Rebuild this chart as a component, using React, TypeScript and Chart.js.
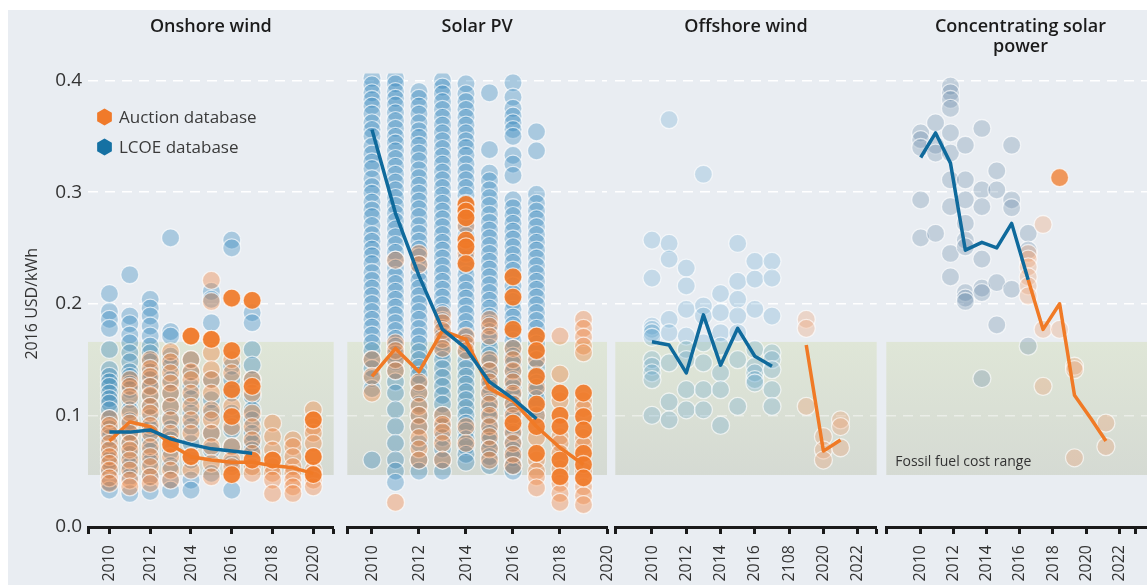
import React, { useEffect, useRef } from 'react';
import { Chart, registerables } from 'chart.js';

Chart.register(...registerables);

const FONT = "'Open Sans', 'DejaVu Sans', sans-serif";
Chart.defaults.font.family = FONT;

// ---------------- shared ----------------
const fossilRange = [0.0466, 0.1658];
const legendLabels = ['Auction database', 'LCOE database'];
const yAxisTitle = '2016 USD/kWh';
const fossilLabel = 'Fossil fuel cost range';

// ---------------- Onshore wind ----------------
const onshoreTitle = 'Onshore wind';
const onshoreYears = [2010, 2011, 2012, 2013, 2014, 2015, 2016, 2017, 2018, 2019, 2020];
const onshoreLcoe = [
  [0.209, 0.193, 0.186, 0.178, 0.159, 0.141, 0.135, 0.13, 0.126, 0.12, 0.115, 0.111, 0.105, 0.097, 0.088, 0.08, 0.07, 0.06, 0.05, 0.04, 0.033],
  [0.226, 0.189, 0.182, 0.172, 0.165, 0.156, 0.148, 0.139, 0.135, 0.128, 0.123, 0.114, 0.105, 0.095, 0.085, 0.075, 0.065, 0.055, 0.045, 0.03],
  [0.204, 0.196, 0.189, 0.18, 0.171, 0.162, 0.156, 0.148, 0.139, 0.132, 0.126, 0.117, 0.108, 0.098, 0.088, 0.078, 0.068, 0.058, 0.045, 0.032],
  [0.259, 0.175, 0.171, 0.153, 0.144, 0.132, 0.12, 0.108, 0.098, 0.088, 0.078, 0.068, 0.055, 0.042, 0.033],
  [0.15, 0.138, 0.126, 0.115, 0.102, 0.09, 0.075, 0.06, 0.042, 0.033],
  [0.211, 0.204, 0.183, 0.132, 0.114, 0.102, 0.084, 0.069, 0.048],
  [0.257, 0.25, 0.144, 0.132, 0.12, 0.102, 0.087, 0.072, 0.057, 0.033],
  [0.192, 0.183, 0.159, 0.145, 0.132, 0.117, 0.105, 0.096, 0.084, 0.075, 0.069],
  [],
  [],
  [],
];
const onshoreAuction = [
  [0.097, 0.091, 0.084, 0.075, 0.069, 0.063, 0.057, 0.051, 0.044, 0.039],
  [0.132, 0.126, 0.117, 0.102, 0.093, 0.084, 0.075, 0.069, 0.06, 0.051, 0.042, 0.036],
  [0.15, 0.142, 0.135, 0.126, 0.118, 0.108, 0.102, 0.091, 0.084, 0.072, 0.063, 0.054, 0.045, 0.039],
  [0.157, 0.148, 0.138, 0.129, 0.12, 0.108, 0.096, 0.084, 0.074, 0.063, 0.051, 0.042],
  [0.171, 0.15, 0.139, 0.132, 0.12, 0.108, 0.096, 0.084, 0.063, 0.051],
  [0.221, 0.202, 0.168, 0.156, 0.141, 0.132, 0.12, 0.105, 0.096, 0.084, 0.072, 0.057, 0.045],
  [0.15, 0.138, 0.108, 0.09, 0.072, 0.06, 0.054],
  [0.132, 0.12, 0.102, 0.09, 0.078, 0.066, 0.054, 0.048],
  [0.093, 0.081, 0.069, 0.06, 0.054, 0.048, 0.042, 0.03],
  [0.078, 0.072, 0.063, 0.054, 0.048, 0.042, 0.036, 0.03],
  [0.105, 0.096, 0.09, 0.084, 0.075, 0.063, 0.051, 0.047, 0.042, 0.036],
];
const onshoreAuctionLarge = [
  [], [], [], [0.074], [0.063, 0.171], [0.168],
  [0.205, 0.158, 0.123, 0.099, 0.047],
  [0.203, 0.126, 0.06],
  [0.06], [], [0.096, 0.063, 0.047],
];
const onshoreLcoeAvgYears = [2010, 2011, 2012, 2013, 2014, 2015, 2016, 2017];
const onshoreLcoeAvg = [0.085, 0.085, 0.087, 0.079, 0.074, 0.07, 0.068, 0.066];
const onshoreAuctionAvg = [0.077, 0.094, 0.09, 0.074, 0.063, 0.06, 0.058, 0.058, 0.055, 0.053, 0.048];
const onshoreTicks = [2008.95, 2010, 2012, 2014, 2016, 2018, 2020, 2021];
const onshoreTickLabels = ['', '2010', '2012', '2014', '2016', '2018', '2020', ''];

// ---------------- Solar PV ----------------
const solarTitle = 'Solar PV';
const solarYears = [2010, 2011, 2012, 2013, 2014, 2015, 2016, 2017, 2018, 2019];
const solarLcoe = [
  [0.402, 0.396, 0.389, 0.383, 0.377, 0.37, 0.362, 0.356, 0.35, 0.341, 0.334, 0.327, 0.321, 0.312, 0.305, 0.299, 0.291, 0.284, 0.278, 0.27, 0.262, 0.256, 0.249, 0.243, 0.236, 0.228, 0.221, 0.214, 0.207, 0.2, 0.193, 0.186, 0.179, 0.172, 0.165, 0.158, 0.15, 0.142, 0.133, 0.124, 0.06],
  [0.402, 0.397, 0.39, 0.384, 0.378, 0.371, 0.364, 0.357, 0.35, 0.344, 0.337, 0.33, 0.323, 0.316, 0.309, 0.302, 0.295, 0.288, 0.281, 0.274, 0.267, 0.26, 0.253, 0.246, 0.239, 0.232, 0.225, 0.218, 0.211, 0.204, 0.197, 0.19, 0.183, 0.176, 0.169, 0.162, 0.155, 0.148, 0.14, 0.13, 0.12, 0.105, 0.09, 0.075, 0.06, 0.05, 0.04],
  [0.39, 0.384, 0.377, 0.37, 0.362, 0.355, 0.349, 0.342, 0.335, 0.328, 0.32, 0.313, 0.306, 0.299, 0.292, 0.285, 0.278, 0.27, 0.263, 0.256, 0.249, 0.242, 0.235, 0.228, 0.221, 0.214, 0.207, 0.2, 0.193, 0.186, 0.178, 0.171, 0.164, 0.157, 0.15, 0.143, 0.136, 0.128, 0.12, 0.11, 0.1, 0.09, 0.075, 0.06, 0.05],
  [0.4, 0.394, 0.388, 0.381, 0.374, 0.367, 0.36, 0.353, 0.346, 0.339, 0.332, 0.325, 0.318, 0.311, 0.304, 0.297, 0.29, 0.283, 0.276, 0.269, 0.262, 0.255, 0.248, 0.241, 0.234, 0.227, 0.22, 0.213, 0.206, 0.199, 0.192, 0.185, 0.178, 0.171, 0.164, 0.157, 0.15, 0.142, 0.134, 0.126, 0.118, 0.11, 0.1, 0.09, 0.08, 0.07, 0.06, 0.05],
  [0.397, 0.388, 0.381, 0.374, 0.367, 0.36, 0.353, 0.346, 0.34, 0.333, 0.325, 0.318, 0.311, 0.304, 0.297, 0.29, 0.282, 0.275, 0.268, 0.261, 0.254, 0.247, 0.24, 0.233, 0.226, 0.219, 0.212, 0.205, 0.198, 0.191, 0.184, 0.177, 0.17, 0.163, 0.156, 0.149, 0.142, 0.135, 0.128, 0.121, 0.114, 0.107, 0.1, 0.093, 0.086, 0.079, 0.072, 0.065, 0.058],
  [0.389, 0.338, 0.317, 0.31, 0.302, 0.295, 0.288, 0.28, 0.273, 0.266, 0.259, 0.252, 0.245, 0.238, 0.231, 0.224, 0.217, 0.21, 0.203, 0.196, 0.189, 0.182, 0.175, 0.168, 0.161, 0.154, 0.147, 0.14, 0.133, 0.126, 0.119, 0.112, 0.105, 0.098, 0.091, 0.084, 0.077, 0.07, 0.063, 0.055],
  [0.398, 0.385, 0.375, 0.368, 0.362, 0.356, 0.35, 0.333, 0.325, 0.315, 0.293, 0.286, 0.279, 0.272, 0.265, 0.258, 0.251, 0.244, 0.237, 0.23, 0.223, 0.216, 0.209, 0.202, 0.195, 0.188, 0.181, 0.174, 0.167, 0.16, 0.153, 0.146, 0.139, 0.132, 0.125, 0.118, 0.111, 0.104, 0.097, 0.09, 0.083, 0.076, 0.069, 0.062, 0.055, 0.05],
  [0.354, 0.337, 0.298, 0.29, 0.283, 0.276, 0.269, 0.262, 0.255, 0.248, 0.241, 0.234, 0.227, 0.22, 0.213, 0.206, 0.199, 0.192, 0.185, 0.178, 0.171, 0.164, 0.157, 0.15, 0.143, 0.136, 0.129, 0.122, 0.115, 0.108, 0.1],
  [],
  [],
];
const solarAuction = [
  [0.15, 0.135, 0.12],
  [0.239, 0.165, 0.158, 0.15, 0.14, 0.022],
  [0.245, 0.235, 0.13, 0.12, 0.108, 0.1, 0.09, 0.08, 0.07, 0.06],
  [0.19, 0.183, 0.176, 0.168, 0.16, 0.1, 0.092, 0.085, 0.075, 0.06],
  [0.27, 0.245, 0.171, 0.165, 0.158, 0.09, 0.075],
  [0.186, 0.18, 0.171, 0.15, 0.14, 0.13, 0.12, 0.11, 0.1, 0.09, 0.081, 0.07, 0.06],
  [0.16, 0.15, 0.14, 0.13, 0.12, 0.11, 0.1, 0.085, 0.075, 0.065, 0.055],
  [0.15, 0.125, 0.1, 0.08, 0.06, 0.05, 0.045, 0.035],
  [0.171, 0.137, 0.113, 0.081, 0.075, 0.066, 0.052, 0.039, 0.03, 0.022],
  [0.186, 0.178, 0.17, 0.162, 0.156, 0.113, 0.106, 0.08, 0.073, 0.05, 0.036, 0.028, 0.02],
];
const solarAuctionLarge = [
  [], [], [], [],
  [0.289, 0.283, 0.277, 0.257, 0.251, 0.236],
  [],
  [0.224, 0.206, 0.177, 0.093],
  [0.171, 0.158, 0.135, 0.11, 0.09, 0.066],
  [0.12, 0.1, 0.09, 0.06, 0.045],
  [0.12, 0.099, 0.087, 0.066, 0.056, 0.044],
];
const solarLcoeAvgYears = [2010, 2011, 2012, 2013, 2014, 2015, 2016, 2017];
const solarLcoeAvg = [0.356, 0.281, 0.225, 0.177, 0.16, 0.13, 0.115, 0.097];
const solarAuctionAvg = [0.135, 0.16, 0.139, 0.176, 0.168, 0.124, 0.113, 0.09, 0.071, 0.056];
const solarTicks = [2008.95, 2010, 2012, 2014, 2016, 2018, 2020];
const solarTickLabels = ['', '2010', '2012', '2014', '2016', '2018', '2020'];

// ---------------- Offshore wind ----------------
const offshoreTitle = 'Offshore wind';
const offshoreLcoeYears = [2010, 2011, 2012, 2013, 2014, 2015, 2016, 2017];
const offshoreLcoe = [
  [0.257, 0.223, 0.18, 0.177, 0.174, 0.17, 0.15, 0.144, 0.138, 0.132, 0.1],
  [0.365, 0.254, 0.24, 0.186, 0.174, 0.147, 0.112, 0.096],
  [0.232, 0.216, 0.195, 0.171, 0.159, 0.15, 0.123, 0.105],
  [0.316, 0.198, 0.189, 0.165, 0.147, 0.123, 0.105],
  [0.209, 0.192, 0.174, 0.162, 0.138, 0.123, 0.091],
  [0.254, 0.22, 0.204, 0.189, 0.174, 0.15, 0.108],
  [0.238, 0.222, 0.195, 0.159, 0.144, 0.138, 0.132, 0.129],
  [0.238, 0.223, 0.189, 0.156, 0.15, 0.141, 0.123, 0.108],
];
const offshoreLcoeAvg = [0.166, 0.163, 0.138, 0.19, 0.145, 0.178, 0.153, 0.144];
const offshoreAuctionYears = [2019, 2020, 2021];
const offshoreAuction = [
  [0.186, 0.178, 0.108],
  [0.081, 0.069, 0.06],
  [0.096, 0.09, 0.071],
];
const offshoreAuctionAvg = [0.163, 0.068, 0.078];
const offshoreTicks = [2007.86, 2010, 2012, 2014, 2016, 2018, 2020, 2022, 2023.11];
const offshoreTickLabels = ['', '2010', '2012', '2014', '2016', '2108', '2020', '2022', ''];

// ---------------- Concentrating solar power ----------------
const cspTitle = ['Concentrating solar', 'power'];
const cspLcoeYears = [2010, 2010.9, 2011.8, 2012.7, 2013.7, 2014.6, 2015.5, 2016.5];
const cspLcoe = [
  [0.353, 0.347, 0.34, 0.293, 0.259],
  [0.362, 0.342, 0.335, 0.263],
  [0.395, 0.389, 0.383, 0.375, 0.353, 0.335, 0.311, 0.287, 0.245, 0.224],
  [0.342, 0.311, 0.293, 0.272, 0.257, 0.251, 0.21, 0.205, 0.202],
  [0.357, 0.302, 0.287, 0.24, 0.214, 0.21, 0.133],
  [0.319, 0.302, 0.219, 0.181],
  [0.342, 0.293, 0.286, 0.213],
  [0.263, 0.248, 0.162],
];
const cspLcoeAvg = [0.331, 0.353, 0.326, 0.248, 0.255, 0.25, 0.272, 0.2215];
const cspAuctionYears = [2016.5, 2017.4, 2018.4, 2019.3, 2020.3, 2021.2];
const cspAuction = [
  [0.245, 0.24, 0.233, 0.224, 0.216, 0.207],
  [0.271, 0.177, 0.126],
  [0.177],
  [0.144, 0.141, 0.062],
  [],
  [0.093, 0.072],
];
const cspAuctionLarge = [[], [], [0.313], [], [], []];
const cspAuctionAvg = [0.2215, 0.177, 0.2, 0.118, 0.097, 0.077];
const cspTicks = [2007.92, 2010, 2012, 2014, 2016, 2018, 2020, 2022, 2023, 2024.15];
const cspTickLabels = ['', '2010', '2012', '2014', '2016', '2018', '2020', '2022', '', ''];

// ---------------- styles ----------------
const BLUE_LINE = '#0f6a9c';
const ORANGE_LINE = '#f07a26';
const ORANGE_MARK = '#f07a2a';
const BLUE_MARK = '#1571a3';
const CLIP = { left: 12, right: 12, top: 7, bottom: 12 };

function cols(years: number[], columns: number[][]) {
  const out: { x: number; y: number }[] = [];
  columns.forEach((col, i) => col.forEach((v) => out.push({ x: years[i], y: v })));
  return out;
}
function series(years: number[], vals: number[]) {
  return vals.map((v, i) => ({ x: years[i], y: v }));
}
function pointSet(label: string, data: any[], fill: string, order: number) {
  return {
    label,
    data,
    showLine: false,
    pointRadius: 9,
    pointHoverRadius: 9,
    pointBackgroundColor: fill,
    pointBorderColor: 'rgba(255,255,255,0.65)',
    pointBorderWidth: 1.3,
    backgroundColor: fill,
    order,
    clip: CLIP,
  };
}
function lineSet(label: string, data: any[], color: string) {
  return {
    label,
    data,
    showLine: true,
    borderColor: color,
    backgroundColor: color,
    borderWidth: 3.5,
    pointRadius: 0,
    pointHoverRadius: 0,
    fill: false,
    tension: 0,
    borderJoinStyle: 'round',
    order: 0,
    clip: CLIP,
  };
}

const bandPlugin = {
  id: 'fossilBand',
  beforeDraw(chart: any) {
    const { ctx, chartArea: a, scales } = chart;
    const y = scales.y;
    const top = y.getPixelForValue(fossilRange[1]);
    const bot = y.getPixelForValue(fossilRange[0]);
    const g = ctx.createLinearGradient(0, top, 0, bot);
    g.addColorStop(0, '#dfe6d7');
    g.addColorStop(1, '#d5dad3');
    ctx.save();
    ctx.fillStyle = g;
    ctx.fillRect(a.left, top, a.right - a.left, bot - top);
    ctx.restore();
  },
};

function hexagon(ctx: CanvasRenderingContext2D, cx: number, cy: number, r: number, color: string) {
  ctx.beginPath();
  for (let i = 0; i < 6; i++) {
    const ang = -Math.PI / 2 + (i * Math.PI) / 3;
    const px = cx + r * Math.cos(ang);
    const py = cy + r * Math.sin(ang);
    if (i === 0) ctx.moveTo(px, py);
    else ctx.lineTo(px, py);
  }
  ctx.closePath();
  ctx.fillStyle = color;
  ctx.fill();
}

const legendPlugin = {
  id: 'hexLegend',
  afterDraw(chart: any) {
    const { ctx, chartArea: a, scales } = chart;
    const top = scales.y.getPixelForValue(0.4);
    const colors = [ORANGE_MARK, BLUE_MARK];
    ctx.save();
    ctx.font = `17px ${FONT}`;
    ctx.textBaseline = 'middle';
    ctx.textAlign = 'left';
    legendLabels.forEach((lab, i) => {
      const cy = top + 36.5 + i * 30;
      hexagon(ctx, a.left + 16.5, cy, 8.5, colors[i]);
      ctx.fillStyle = '#3a3a3a';
      ctx.fillText(lab, a.left + 31, cy + 1);
    });
    ctx.restore();
  },
};

const fossilLabelPlugin = {
  id: 'fossilLabel',
  afterDraw(chart: any) {
    const { ctx, chartArea: a, scales } = chart;
    const bot = scales.y.getPixelForValue(fossilRange[0]);
    ctx.save();
    ctx.font = `14px ${FONT}`;
    ctx.fillStyle = '#333';
    ctx.textBaseline = 'middle';
    ctx.textAlign = 'left';
    ctx.fillText(fossilLabel, a.left + 9, bot - 13);
    ctx.restore();
  },
};

interface PanelDef {
  key: string;
  title: string | string[];
  left: number;
  width: number;
  padLeft: number;
  padRight: number;
  xMin: number;
  xMax: number;
  ticks: number[];
  tickLabels: string[];
  showY: boolean;
  datasets: any[];
  plugins: any[];
}

const H = 585;

function buildConfig(def: PanelDef): any {
  const twoLines = Array.isArray(def.title) && def.title.length > 1;
  const gridColor = (c: any) => {
    const v = c.tick ? c.tick.value : 1;
    if (Math.abs(v) < 1e-9) return 'rgba(0,0,0,0)';
    if (Math.abs(v - 0.1) < 1e-6) return 'rgba(255,255,255,0.45)';
    return '#ffffff';
  };
  return {
    type: 'scatter',
    data: { datasets: def.datasets },
    plugins: [bandPlugin, ...def.plugins],
    options: {
      responsive: false,
      animation: false,
      events: [],
      layout: { padding: { left: def.padLeft, right: def.padRight, top: 0, bottom: 0 } },
      plugins: {
        legend: { display: false },
        tooltip: { enabled: false },
        title: {
          display: true,
          text: def.title,
          fullSize: false,
          color: '#1b1b1b',
          font: { family: FONT, size: 18, weight: '600', lineHeight: 1.1 },
          padding: { top: 17.1, bottom: twoLines ? 23.8 : 43.6 },
        },
      },
      scales: {
        x: {
          type: 'linear',
          min: def.xMin,
          max: def.xMax,
          afterBuildTicks: (scale: any) => {
            scale.ticks = def.ticks.map((v) => ({ value: v }));
          },
          afterFit: (scale: any) => {
            scale.height = H - 527;
            scale.paddingLeft = 0;
            scale.paddingRight = 0;
          },
          ticks: {
            autoSkip: false,
            minRotation: 90,
            maxRotation: 90,
            padding: 11,
            color: '#333',
            font: { family: FONT, size: 16 },
            callback: (_v: any, i: number) => def.tickLabels[i] ?? '',
          },
          grid: {
            display: true,
            drawOnChartArea: false,
            drawTicks: true,
            tickLength: 7,
            tickWidth: 3,
            tickColor: '#1a1a1a',
          },
          border: { display: true, color: '#1a1a1a', width: 3 },
        },
        y: {
          type: 'linear',
          min: 0,
          max: 0.4,
          display: true,
          afterFit: (scale: any) => {
            scale.width = def.showY ? 80 : 0;
          },
          ticks: {
            display: def.showY,
            stepSize: 0.1,
            padding: 6,
            color: '#333',
            font: { family: FONT, size: 19 },
            callback: (v: any) => Number(v).toFixed(1),
          },
          grid: { display: true, drawTicks: false, color: gridColor, lineWidth: 1.5 },
          border: { display: false, dash: [10, 7] },
          title: {
            display: def.showY,
            text: yAxisTitle,
            color: '#333',
            font: { family: FONT, size: 16 },
            padding: { top: 15, bottom: 0 },
          },
        },
      },
    },
  };
}

const LCOE_FILL = 'rgba(33,124,182,0.32)';
const AUCTION_FILL = 'rgba(242,125,50,0.36)';
const AUCTION_LARGE_FILL = 'rgba(240,122,40,0.92)';

const panels: PanelDef[] = [
  {
    key: 'onshore',
    title: onshoreTitle,
    left: 0,
    width: 344,
    padLeft: 8,
    padRight: 6,
    xMin: 2008.95,
    xMax: 2021,
    ticks: onshoreTicks,
    tickLabels: onshoreTickLabels,
    showY: true,
    plugins: [legendPlugin],
    datasets: [
      lineSet('LCOE database average', series(onshoreLcoeAvgYears, onshoreLcoeAvg), BLUE_LINE),
      lineSet('Auction database average', series(onshoreYears, onshoreAuctionAvg), ORANGE_LINE),
      pointSet('Auction database (large)', cols(onshoreYears, onshoreAuctionLarge), AUCTION_LARGE_FILL, 1),
      pointSet('Auction database', cols(onshoreYears, onshoreAuction), AUCTION_FILL, 2),
      pointSet('LCOE database', cols(onshoreYears, onshoreLcoe), LCOE_FILL, 3),
    ],
  },
  {
    key: 'solar',
    title: solarTitle,
    left: 337,
    width: 282,
    padLeft: 8,
    padRight: 12,
    xMin: 2008.95,
    xMax: 2020,
    ticks: solarTicks,
    tickLabels: solarTickLabels,
    showY: false,
    plugins: [],
    datasets: [
      lineSet('LCOE database average', series(solarLcoeAvgYears, solarLcoeAvg), BLUE_LINE),
      lineSet('Auction database average', series(solarYears, solarAuctionAvg), ORANGE_LINE),
      pointSet('Auction database (large)', cols(solarYears, solarAuctionLarge), AUCTION_LARGE_FILL, 1),
      pointSet('Auction database', cols(solarYears, solarAuction), AUCTION_FILL, 2),
      pointSet('LCOE database', cols(solarYears, solarLcoe), LCOE_FILL, 3),
    ],
  },
  {
    key: 'offshore',
    title: offshoreTitle,
    left: 605,
    width: 282,
    padLeft: 8,
    padRight: 10,
    xMin: 2007.86,
    xMax: 2023.11,
    ticks: offshoreTicks,
    tickLabels: offshoreTickLabels,
    showY: false,
    plugins: [],
    datasets: [
      lineSet('LCOE database average', series(offshoreLcoeYears, offshoreLcoeAvg), BLUE_LINE),
      lineSet('Auction database average', series(offshoreAuctionYears, offshoreAuctionAvg), ORANGE_LINE),
      pointSet('Auction database', cols(offshoreAuctionYears, offshoreAuction), 'rgba(236,160,112,0.32)', 2),
      pointSet('LCOE database', cols(offshoreLcoeYears, offshoreLcoe), 'rgba(80,155,200,0.24)', 3),
    ],
  },
  {
    key: 'csp',
    title: cspTitle,
    left: 876,
    width: 289,
    padLeft: 8,
    padRight: 0,
    xMin: 2007.92,
    xMax: 2024.15,
    ticks: cspTicks,
    tickLabels: cspTickLabels,
    showY: false,
    plugins: [fossilLabelPlugin],
    datasets: [
      lineSet('LCOE database average', series(cspLcoeYears, cspLcoeAvg), BLUE_LINE),
      lineSet('Auction database average', series(cspAuctionYears, cspAuctionAvg), ORANGE_LINE),
      pointSet('Auction database (large)', cols(cspAuctionYears, cspAuctionLarge), 'rgba(240,122,40,0.75)', 1),
      pointSet('Auction database', cols(cspAuctionYears, cspAuction), 'rgba(236,160,112,0.32)', 2),
      pointSet('LCOE database', cols(cspLcoeYears, cspLcoe), 'rgba(90,125,160,0.27)', 3),
    ],
  },
];

function Panel({ def }: { def: PanelDef }) {
  const ref = useRef<HTMLCanvasElement | null>(null);
  useEffect(() => {
    if (!ref.current) return;
    const chart = new Chart(ref.current, buildConfig(def));
    return () => chart.destroy();
  }, [def]);
  return (
    <canvas
      ref={ref}
      width={def.width}
      height={H}
      style={{ position: 'absolute', left: def.left, top: 0, width: def.width, height: H, display: 'block' }}
    />
  );
}

export default function App() {
  return (
    <div
      style={{
        position: 'fixed',
        left: 0,
        top: 0,
        width: 1147,
        height: 585,
        overflow: 'hidden',
        background: '#ffffff',
      }}
    >
      <div
        style={{
          position: 'absolute',
          left: 8,
          top: 10,
          right: 0,
          bottom: 0,
          background: '#e9edf2',
        }}
      />
      {panels.map((p) => (
        <Panel key={p.key} def={p} />
      ))}
    </div>
  );
}
